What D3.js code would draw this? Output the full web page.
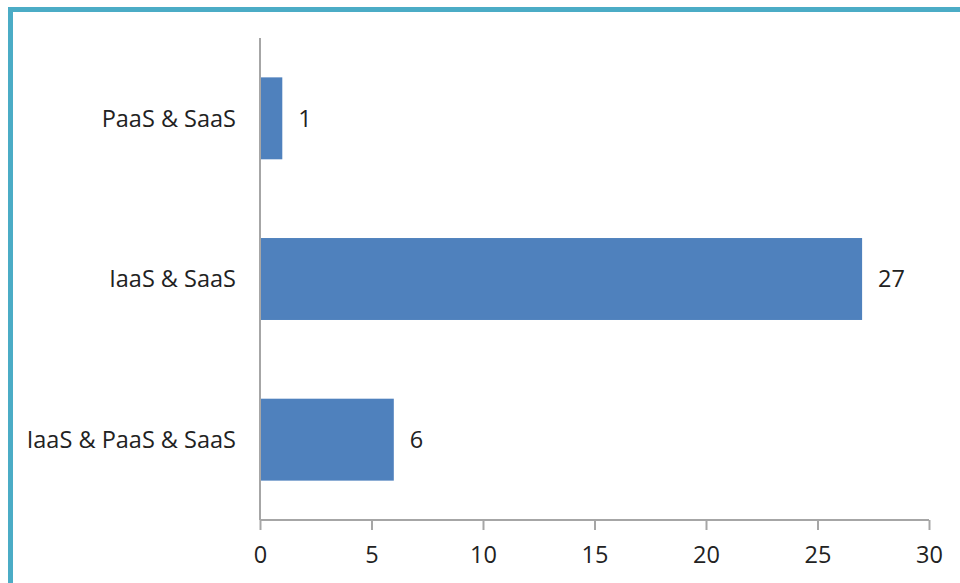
<!DOCTYPE html>
<html>
<head>
<meta charset="utf-8">
<script src="https://cdn.jsdelivr.net/npm/d3@7"></script>
<style>
  body { margin: 0; background: #fff; }
  text { font-family: "Open Sans", sans-serif; fill: #222; }
</style>
</head>
<body>
<svg id="chart" width="960" height="583"></svg>
<script>
// chart data, top to bottom
const categories = ['PaaS & SaaS', 'IaaS & SaaS', 'IaaS & PaaS & SaaS'];
const values = [1, 27, 6];
const xTicks = [0, 5, 10, 15, 20, 25, 30];

const FONTSIZE = 23.5;
const AXISCOLOR = '#a6a6a6';

function main(){
    const svg = d3.select('#chart');

    // frame, only top and left edges visible
    svg.append('rect')
        .attr('x', 10.5).attr('y', 9.5)
        .attr('width', 1000).attr('height', 1000)
        .attr('fill', 'none')
        .attr('stroke', '#4bacc6').attr('stroke-width', 5);

    const x = d3.scaleLinear().domain([0, 30]).range([260, 929]);
    const y = d3.scaleBand().domain(categories).range([38, 520]).paddingInner(0.49).paddingOuter(0.245);

    const data = categories.map((c, i) => ({name: c, value: values[i]}));

    svg.selectAll('rect.bar').data(data).enter()
        .append('rect').classed('bar', true)
        .attr('x', x(0))
        .attr('y', d => y(d.name))
        .attr('width', d => x(d.value) - x(0))
        .attr('height', y.bandwidth())
        .attr('fill', '#4f81bd');

    svg.selectAll('text.val').data(data).enter()
        .append('text').classed('val', true)
        .attr('x', d => x(d.value) + 16)
        .attr('y', d => y(d.name) + y.bandwidth() / 2)
        .attr('dy', '0.35em')
        .attr('font-size', FONTSIZE)
        .text(d => d.value);

    // category labels
    svg.selectAll('text.cat').data(categories).enter()
        .append('text').classed('cat', true)
        .attr('x', 236)
        .attr('y', d => y(d) + y.bandwidth() / 2)
        .attr('dy', '0.35em')
        .attr('text-anchor', 'end')
        .attr('font-size', FONTSIZE)
        .text(d => d);

    // value axis
    const xAxis = d3.axisBottom(x).tickValues(xTicks).tickSize(10).tickPadding(16);
    const gx = svg.append('g').attr('transform', 'translate(0,520)').call(xAxis);
    gx.select('.domain').attr('stroke', AXISCOLOR).attr('stroke-width', 2)
        .attr('d', `M${x(0)},0H${x(30)}`);
    gx.selectAll('.tick line').attr('stroke', AXISCOLOR).attr('stroke-width', 2);
    gx.selectAll('.tick text').attr('font-size', FONTSIZE)
        .attr('font-family', '"Open Sans", sans-serif').attr('fill', '#222');

    // category axis line
    svg.append('line')
        .attr('x1', x(0)).attr('x2', x(0))
        .attr('y1', 38).attr('y2', 520)
        .attr('stroke', AXISCOLOR).attr('stroke-width', 2);
}

main();
</script>
</body>
</html>
